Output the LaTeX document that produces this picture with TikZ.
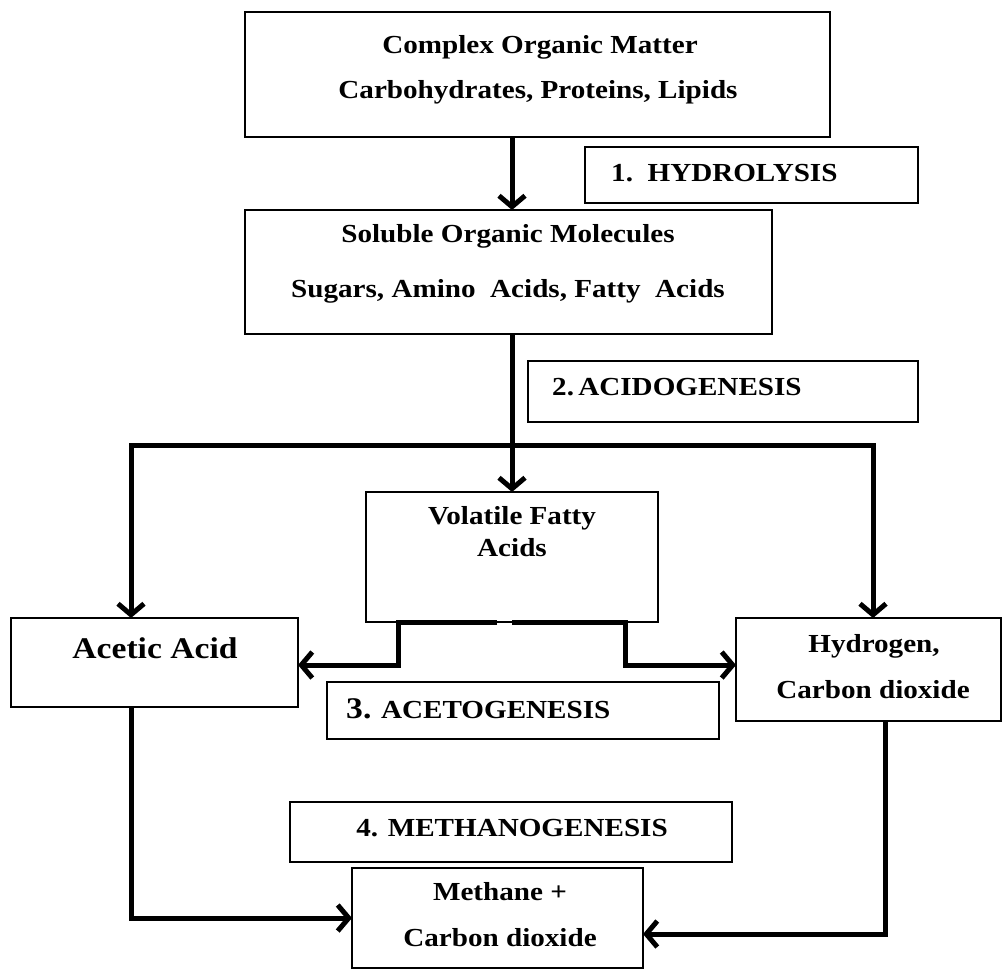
\documentclass[tikz,border=0pt]{standalone}
\usepackage{fontspec}
\setmainfont{Liberation Serif}[FakeStretch=1.12]
\usetikzlibrary{arrows.meta}
\tikzset{
  box/.style={draw, line width=1.8, inner sep=0, outer sep=0, fill=white},
  txt/.style={font=\fontsize{26}{28}\selectfont\bfseries, inner sep=0},
  bigtxt/.style={font=\fontsize{30}{32}\selectfont\bfseries, inner sep=0},
  arr/.style={line width=5, -{Straight Barb[length=11,width=26]}},
}
\begin{document}
\begin{tikzpicture}[x=1pt,y=-1pt]
\fill[white] (0,0) rectangle (1003,970);
\useasboundingbox (0,0) rectangle (1003,970);

% boxes
\node[box, minimum width=585, minimum height=125] (b1) at (537.5,74.5) {};
\node[box, minimum width=333, minimum height=56] (hyd) at (751.5,175) {};
\node[box, minimum width=527, minimum height=124] (b2) at (508.5,272) {};
\node[box, minimum width=390, minimum height=61] (acid) at (723,391.5) {};
\node[box, minimum width=292, minimum height=130] (vfa) at (512,557) {};
\node[box, minimum width=287, minimum height=89] (ac) at (154.5,662.5) {};
\node[box, minimum width=265, minimum height=103] (h2) at (868.5,669.5) {};
\node[box, minimum width=392, minimum height=57] (aceto) at (523,710.5) {};
\node[box, minimum width=442, minimum height=60] (meth) at (511,832) {};
\node[box, minimum width=291, minimum height=100] (ch4) at (497.5,918) {};

% texts
\node[txt] (t1a) at (540,47) {Complex Organic Matter};
\node[txt] (t1b) at (538,92) {Carbohydrates, Proteins, Lipids};
\node[txt, anchor=west] (thyd) at (611,173) {1.\ \ HYDROLYSIS};
\node[txt] (t2a) at (508,236) {Soluble Organic Molecules};
\node[txt] (t2b) at (508,291) {Sugars, Amino\ \ Acids, Fatty\ \ Acids};
\node[txt, anchor=west] (tacid) at (552,387) {2.\,ACIDOGENESIS};
\node[txt] (tvfa1) at (512,518) {Volatile Fatty};
\node[txt] (tvfa2) at (512,548) {Acids};
\node[bigtxt] (tac) at (155,648) {Acetic Acid};
\node[txt] (th2a) at (874,646) {Hydrogen,};
\node[txt] (th2b) at (873,690) {Carbon dioxide};
\node[txt, anchor=west] (taceto) at (346,709) {{\fontsize{30}{32}\selectfont 3.} ACETOGENESIS};
\node[txt] (tmeth) at (512,828) {4. METHANOGENESIS};
\node[txt] (tch4a) at (500,892) {Methane +};
\node[txt] (tch4b) at (500,938) {Carbon dioxide};

% connectors
\draw[arr] (vfa.north |- b1.south) -- (vfa.north |- b2.north);
\coordinate (jl) at (131,445);
\coordinate (jr) at (873,445);
\draw[arr] (vfa.north |- b2.south) -- (vfa.north);
\draw[arr] (vfa.north |- jl) -- (jl) -- (jl |- ac.north);
\draw[arr] (vfa.north |- jr) -- (jr) -- (jr |- h2.north);

\coordinate (vl) at (398,665);
\coordinate (vr) at (625,665);
\coordinate (gl) at (497,622);
\draw[arr] (gl) -- (vl |- gl) -- (vl) -- (vl -| ac.east);
\draw[arr] (vfa.south) -- (vr |- vfa.south) -- (vr) -- (vr -| h2.west);

\coordinate (bl) at (131,918);
\coordinate (br) at (885,934);
\draw[arr] (bl |- ac.south) -- (bl) -- (bl -| ch4.west);
\draw[arr] (br |- h2.south) -- (br) -- (br -| ch4.east);
\end{tikzpicture}
\end{document}
